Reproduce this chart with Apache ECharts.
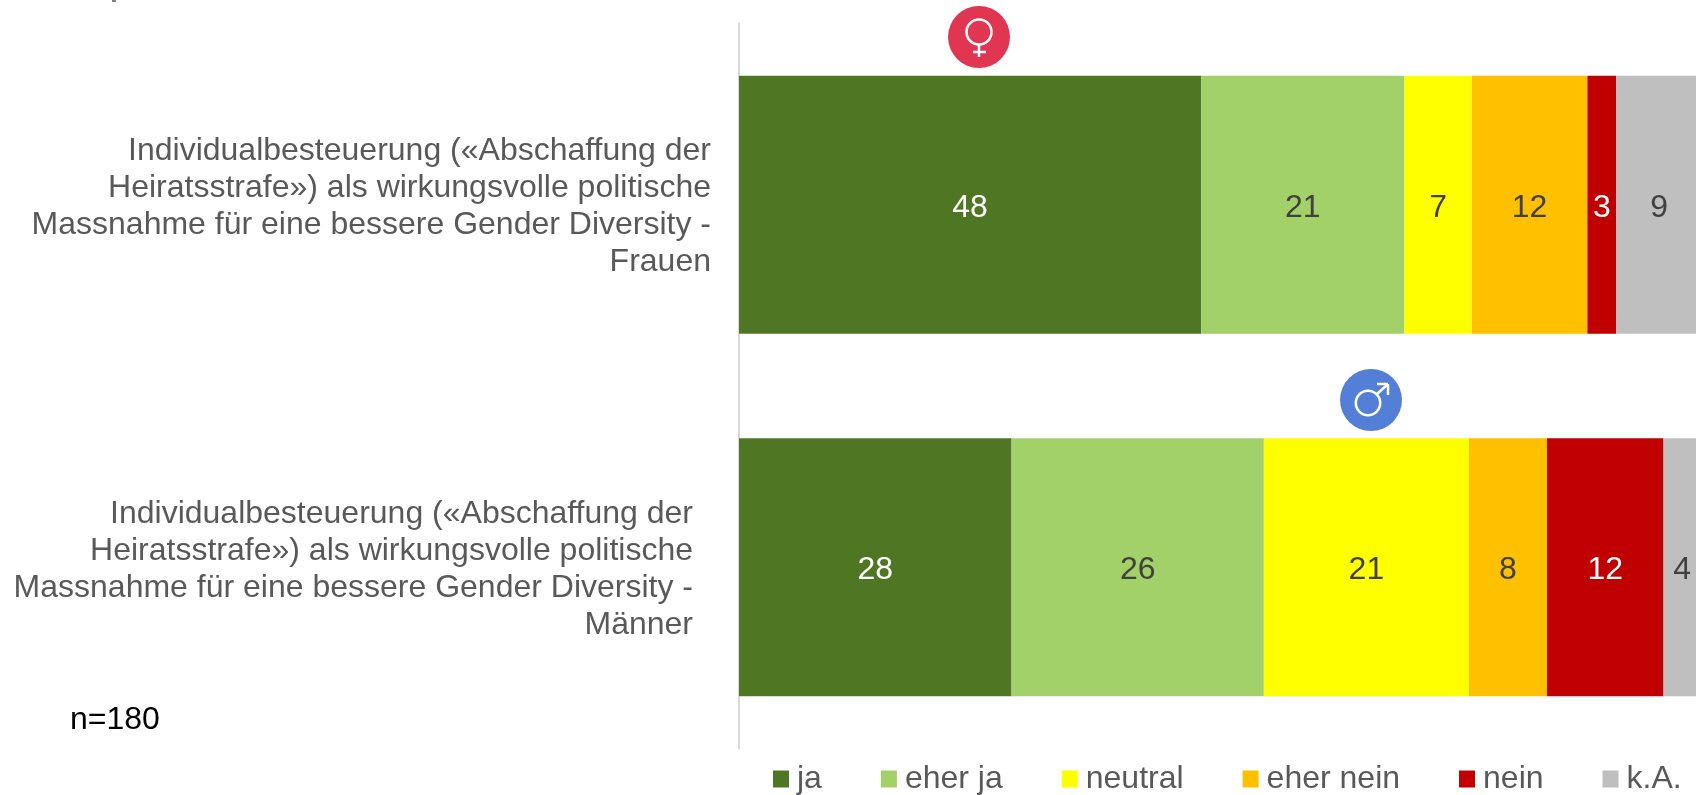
<!DOCTYPE html>
<html><head><meta charset="utf-8">
<style>html,body{margin:0;padding:0;background:#fff;overflow:hidden}#c{width:1696px;height:795px}</style>
<script src="https://cdn.jsdelivr.net/npm/echarts@6/dist/echarts.min.js"></script>
</head><body><div id="c"></div>
<script>
const categories = [
 'Individualbesteuerung («Abschaffung der\nHeiratsstrafe») als wirkungsvolle politische\nMassnahme für eine bessere Gender Diversity -\nFrauen',
 'Individualbesteuerung («Abschaffung der\nHeiratsstrafe») als wirkungsvolle politische\nMassnahme für eine bessere Gender Diversity -\nMänner'
];
const seriesNames = ['ja','eher ja','neutral','eher nein','nein','k.A.'];
const ja = [48, 28.3];
const eherJa = [21.1, 26.2];
const neutral = [7, 21.3];
const eherNein = [12, 8.1];
const nein = [3, 12.1];
const kA = [8.9, 3.9];
const colors = ['#4F7723','#A2D16A','#FFFF00','#FFC000','#C00000','#BFBFBF'];
const labelColors = ['#fff','#404040','#404040','#404040','#fff','#404040'];
const values = [ja, eherJa, neutral, eherNein, nein, kA];
const FONT = '"Liberation Sans", Arial, sans-serif';
const FS = 32;
const chart = echarts.init(document.getElementById('c'));

function ring(cx, cy, r){ return {type:'circle', shape:{cx, cy, r}, style:{fill:'none', stroke:'#fff', lineWidth:2.5}, z:11}; }
function seg(x1,y1,x2,y2){ return {type:'line', shape:{x1,y1,x2,y2}, style:{stroke:'#fff', lineWidth:2.5}, z:11}; }

chart.setOption({
  animation:false,
  backgroundColor:'#fff',
  grid:{left:739, top:23.5, width:963, height:725, containLabel:false, outerBoundsMode:'none'},
  xAxis:{type:'value', min:0, max:100, show:false},
  yAxis:{type:'category', data:categories, inverse:true,
    axisTick:{show:false},
    axisLine:{show:true, lineStyle:{color:'#D9D9D9', width:2}},
    axisLabel:{margin:28, align:'right', color:'#595959', fontFamily:FONT, fontSize:FS, lineHeight:37,
      formatter:(v,i)=> i===1 ? v.split('\n').map(l=>'{m|'+l+'}').join('\n') : v,
      rich:{m:{color:'#595959', fontFamily:FONT, fontSize:FS, lineHeight:37, padding:[0,18,0,0]}},
      padding:[4,0,0,0]
    }},
  legend:{left:773, top:763, padding:0, icon:'rect', itemWidth:16, itemHeight:17, itemGap:59, selectedMode:false,
    textStyle:{color:'#595959', fontFamily:FONT, fontSize:FS, padding:[14,0,0,3]},
    data:seriesNames},
  series:seriesNames.map((n,i)=>({
    name:n, type:'bar', stack:'t', barWidth:258, data:values[i],
    itemStyle:{color:colors[i]},
    label:{show:true, position:'inside', offset:[0,3], color:labelColors[i], fontFamily:FONT, fontSize:FS,
      formatter:p=>String(Math.round(p.value))}
  })),
  graphic:{elements:[
    {type:'circle', shape:{cx:979, cy:37, r:31}, style:{fill:'#E03651'}, z:10},
    ring(979, 32, 12.5), seg(979,45,979,57), seg(973,52,986,52),
    {type:'circle', shape:{cx:1371, cy:400, r:31}, style:{fill:'#5380D6'}, z:10},
    ring(1368, 403, 12.2), seg(1377,394,1388,384), seg(1377,384,1388,384), seg(1388,384,1388,395),
    {type:'text', left:70, top:704, style:{text:'n=180', fill:'#000', font:FS+'px '+FONT}, z:10},
    {type:'rect', shape:{x:112, y:0, width:4, height:2}, style:{fill:'#7f7f7f'}, z:10}
  ]}
});
</script></body></html>
